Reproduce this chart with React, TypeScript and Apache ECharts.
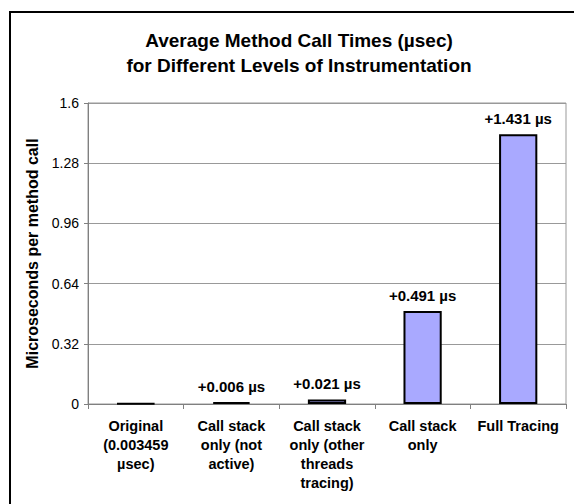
import React, { useEffect, useRef } from "react";
import * as echarts from "echarts";

const categories = [
  "Original\n(0.003459\nµsec)",
  "Call stack\nonly (not\nactive)",
  "Call stack\nonly (other\nthreads\ntracing)",
  "Call stack\nonly",
  "Full Tracing",
];
const values = [0.003459, 0.009459, 0.024459, 0.494459, 1.434459];
const barLabels = ["", "+0.006 µs", "+0.021 µs", "+0.491 µs", "+1.431 µs"];
const yTicks = ["0", "0.32", "0.64", "0.96", "1.28", "1.6"];

const FONT = "'Liberation Sans', Arial, sans-serif";

export default function App() {
  const ref = useRef<HTMLDivElement>(null);
  useEffect(() => {
    document.body.style.margin = "0";
    const chart = echarts.init(ref.current!, null, { renderer: "svg" });
    chart.setOption({
      animation: false,
      backgroundColor: "#ffffff",
      textStyle: { fontFamily: FONT },
      title: {
        text: "Average Method Call Times (µsec)\nfor Different Levels of Instrumentation",
        left: 294,
        top: 23,
        textAlign: "center",
        textStyle: {
          fontFamily: FONT,
          fontSize: 19,
          fontWeight: "bold",
          color: "#000",
          lineHeight: 25,
        },
      },
      graphic: [
        {
          type: "rect",
          shape: { x: 10, y: 12, width: 600, height: 560 },
          style: { fill: "none", stroke: "#000", lineWidth: 2 },
          silent: true,
        },
      ],
      grid: {
        left: 88,
        top: 103,
        right: 8,
        bottom: 100,
        show: true,
        borderColor: "#999",
        borderWidth: 1,
      },
      xAxis: {
        type: "category",
        data: categories,
        axisLine: { lineStyle: { color: "#808080", width: 1 } },
        axisTick: { show: true, alignWithLabel: false, length: 5, lineStyle: { color: "#808080" } },
        axisLabel: {
          interval: 0,
          margin: 12,
          fontFamily: FONT,
          fontSize: 14.5,
          fontWeight: "bold",
          color: "#000",
          lineHeight: 19,
        },
      },
      yAxis: {
        type: "value",
        min: 0,
        max: 1.6,
        interval: 0.32,
        name: "Microseconds per method call",
        nameLocation: "middle",
        nameGap: 41,
        nameRotate: 90,
        nameTextStyle: { fontFamily: FONT, fontSize: 16, fontWeight: "bold", color: "#000" },
        axisLine: { show: true, lineStyle: { color: "#808080", width: 1 } },
        axisTick: { show: true, length: 4, lineStyle: { color: "#808080" } },
        splitLine: { show: true, lineStyle: { color: "#999", width: 1 } },
        axisLabel: {
          fontFamily: FONT,
          fontSize: 14,
          color: "#000",
          margin: 9,
          formatter: (_v: number, i: number) => yTicks[i],
        },
      },
      series: [
        {
          type: "bar",
          data: values,
          barWidth: "40%",
          itemStyle: { color: "#A9A9FF", borderColor: "#000", borderWidth: 2 },
          label: {
            show: true,
            position: "top",
            distance: 8,
            fontFamily: FONT,
            fontSize: 15,
            fontWeight: "bold",
            color: "#000",
            formatter: (p: any) => barLabels[p.dataIndex],
          },
        },
      ],
    });
    return () => chart.dispose();
  }, []);
  return <div ref={ref} style={{ width: 574, height: 504 }} />;
}
